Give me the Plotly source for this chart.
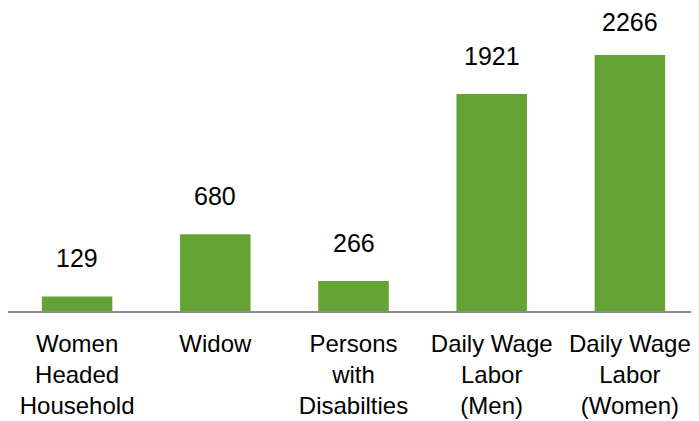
import plotly.graph_objects as go

categories = ["Women<br>Headed<br>Household", "Widow", "Persons<br>with<br>Disabilties",
              "Daily Wage<br>Labor<br>(Men)", "Daily Wage<br>Labor<br>(Women)"]
values = [129, 680, 266, 1921, 2266]
value_labels = [str(v) for v in values]

FONT = "Liberation Sans, Arial"

fig = go.Figure()
fig.add_trace(go.Bar(x=categories, y=values, marker=dict(color="#62a334", line=dict(width=0)),
                     width=0.51))

vmax = max(values)
for c, v, t in zip(categories, values, value_labels):
    shift = 17 if v == vmax else 22  # top label is pushed down to stay inside the chart
    fig.add_annotation(x=c, y=v, text=t, showarrow=False, yanchor="bottom", yshift=shift,
                       font=dict(size=25, color="#000000", family=FONT))

fig.update_layout(
    width=691, height=413,
    margin=dict(l=0, r=0, t=12, b=110),
    paper_bgcolor="white", plot_bgcolor="white",
    showlegend=False,
    font=dict(family=FONT, size=24, color="#000000"),
    bargap=0.49,
)
fig.update_xaxes(showline=True, linecolor="#8c8c8c", linewidth=1.5, ticks="", showgrid=False,
                 tickfont=dict(size=24, color="#000000"), ticklabelstandoff=10,
                 automargin=False)
fig.update_yaxes(visible=False, range=[0, 2576], showgrid=False, zeroline=False)

fig.write_html("out.html")
